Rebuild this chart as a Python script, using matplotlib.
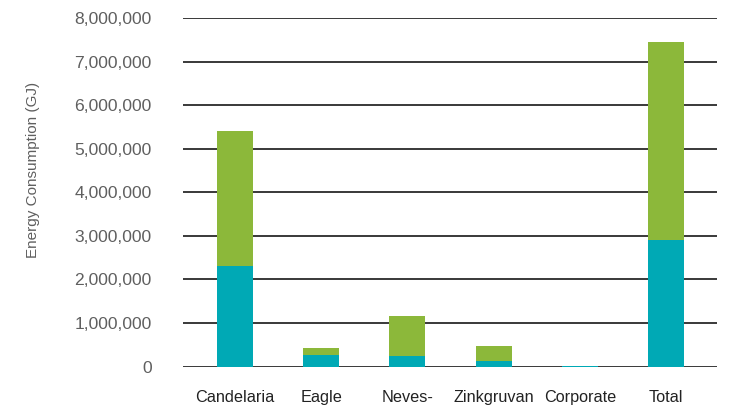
import matplotlib
matplotlib.use("Agg")
import matplotlib.pyplot as plt
from matplotlib.ticker import FuncFormatter

plt.rcParams['font.family'] = ['Liberation Sans', 'DejaVu Sans']

sites = ["Candelaria", "Eagle", "Neves-", "Zinkgruvan", "Corporate", "Total"]
direct_gj = [2310000, 264000, 241000, 126000, 8000, 2904000]
indirect_gj = [3096000, 161000, 918000, 344000, 2000, 4546000]

teal = "#00A9B5"
green = "#8CB83A"

fig = plt.figure(figsize=(7.36, 4.11), dpi=100)
ax = fig.add_axes([183/736, 1 - 366.5/411, (717-183)/736, (366.5-18)/411])

x = list(range(len(sites)))
width = 0.418
ax.bar(x, direct_gj, width=width, color=teal, zorder=3)
ax.bar(x, indirect_gj, width=width, bottom=direct_gj, color=green, zorder=3)

ax.set_ylim(0, 8000000)
ax.set_xlim(-0.603, 5.59)
ax.set_yticks(range(0, 8000001, 1000000))
ax.yaxis.set_major_formatter(FuncFormatter(lambda v, p: f"{int(v):,}"))
ax.yaxis.grid(True, color="#2a2a2a", linewidth=1.3, zorder=1)
ax.set_axisbelow(True)
for s in ax.spines.values():
    s.set_visible(False)
ax.tick_params(axis='y', length=0, pad=22.5, labelsize=12.6, labelcolor="#5f5f5f")
ax.set_xticks(x)
ax.set_xticklabels(sites)
ax.tick_params(axis='x', length=0, pad=17, labelsize=11.7, labelcolor="#222222")

fig.text(33/736, 1 - 170/411, "Energy Consumption (GJ)", rotation=90,
         ha='center', va='center', fontsize=11, color="#5f5f5f")

fig.savefig("out.png", dpi=100)
